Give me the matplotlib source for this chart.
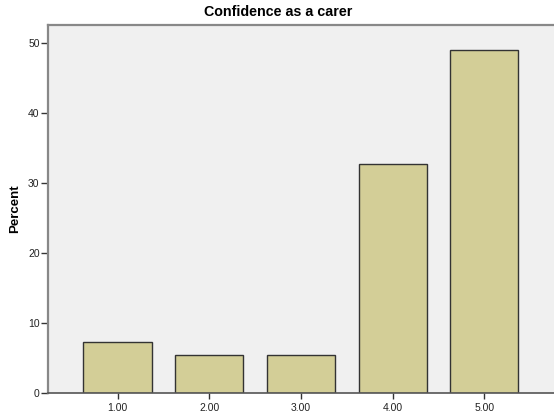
import matplotlib
matplotlib.use("Agg")
import matplotlib.pyplot as plt

# values (percent of respondents)
categories = ["1.00", "2.00", "3.00", "4.00", "5.00"]
percents = [7.27, 5.45, 5.45, 32.73, 49.09]
yticks = [0, 10, 20, 30, 40, 50]

plt.rcParams["font.family"] = ["Liberation Sans", "DejaVu Sans"]

fig = plt.figure(figsize=(5.54, 4.16), dpi=100)
ax = fig.add_axes([0.0866, 0.0546, 0.9134, 0.886])
ax.set_facecolor("#f0f0f0")

xpos = list(range(1, len(categories) + 1))
ax.bar(xpos, percents, width=0.745, color="#d3ce97", edgecolor="#333333", linewidth=1.0, zorder=2)

ax.set_xlim(0.24, 5.76)
ax.set_ylim(0, 52.66)
ax.set_xticks(xpos)
ax.set_xticklabels(categories, fontsize=7.5, color="#222222")
ax.set_yticks(yticks)
ax.set_yticklabels([str(v) for v in yticks], fontsize=7.5, color="#222222")
ax.tick_params(axis="y", length=5, width=1, color="#333333", pad=1)
ax.tick_params(axis="x", length=4, width=1, color="#333333", pad=3)

for side in ["top", "left"]:
    ax.spines[side].set_color("#888888")
    ax.spines[side].set_linewidth(1.6)
ax.spines["bottom"].set_color("#555555")
ax.spines["bottom"].set_linewidth(1.2)
ax.spines["right"].set_visible(False)

ax.set_ylabel("Percent", fontsize=9.5, fontweight="bold", labelpad=5)
fig.text(0.503, 0.972, "Confidence as a carer", ha="center", va="center", fontsize=10.3, fontweight="bold")

fig.savefig("out.png", dpi=100)
